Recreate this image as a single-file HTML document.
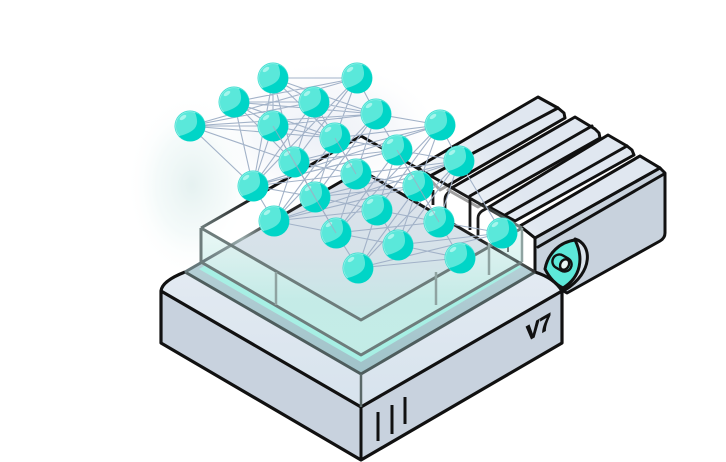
<!DOCTYPE html>
<html><head><meta charset="utf-8"><style>html,body{margin:0;padding:0;background:#fff;width:726px;height:462px;overflow:hidden}svg{display:block}</style></head><body>
<svg width="726" height="462" viewBox="0 0 726 462" xmlns="http://www.w3.org/2000/svg">
<defs>
<radialGradient id="glow"><stop offset="0" stop-color="#d6e9e8" stop-opacity=".62"/><stop offset=".55" stop-color="#e6f4f3" stop-opacity=".42"/><stop offset="1" stop-color="#fff" stop-opacity="0"/></radialGradient>
<radialGradient id="haze"><stop offset="0" stop-color="#e9edf5" stop-opacity=".85"/><stop offset=".6" stop-color="#f0f3f8" stop-opacity=".55"/><stop offset="1" stop-color="#fff" stop-opacity="0"/></radialGradient>
<linearGradient id="top" x1="0" y1="270" x2="0" y2="407" gradientUnits="userSpaceOnUse"><stop offset="0" stop-color="#e3eaf2"/><stop offset="1" stop-color="#d7e3ed"/></linearGradient>
<linearGradient id="glass" x1="0" y1="170" x2="0" y2="356" gradientUnits="userSpaceOnUse"><stop offset="0" stop-color="#dde2ec"/><stop offset=".45" stop-color="#d6e2e9"/><stop offset="1" stop-color="#b9ebe4"/></linearGradient>
<linearGradient id="band" x1="0" y1="262" x2="0" y2="375" gradientUnits="userSpaceOnUse"><stop offset="0" stop-color="#b5cfd6"/><stop offset="1" stop-color="#a0c3c9"/></linearGradient>
<linearGradient id="wall" x1="0" y1="228" x2="0" y2="300" gradientUnits="userSpaceOnUse"><stop offset="0" stop-color="#e6f6f4" stop-opacity=".85"/><stop offset="1" stop-color="#c4ece7" stop-opacity=".85"/></linearGradient>
<linearGradient id="slatFade" x1="440" y1="230" x2="560" y2="160" gradientUnits="userSpaceOnUse"><stop offset="0" stop-color="#f7fafb"/><stop offset=".65" stop-color="#e0e7f0"/></linearGradient>
<linearGradient id="edgeL" x1="200" y1="262" x2="340" y2="182" gradientUnits="userSpaceOnUse"><stop offset="0" stop-color="#66777a"/><stop offset=".3" stop-color="#97a8a8"/><stop offset=".5" stop-color="#333"/><stop offset="1" stop-color="#111"/></linearGradient>
<linearGradient id="edgeT" x1="201" y1="228" x2="255" y2="197" gradientUnits="userSpaceOnUse"><stop offset="0" stop-color="#6d7c7b"/><stop offset="1" stop-color="#111"/></linearGradient>
<linearGradient id="edgeR" x1="361" y1="0" x2="522" y2="0" gradientUnits="userSpaceOnUse"><stop offset="0" stop-color="#111"/><stop offset=".7" stop-color="#1a1a1a"/><stop offset="1" stop-color="#73827f"/></linearGradient>
<linearGradient id="edgeS" x1="361" y1="0" x2="535" y2="0" gradientUnits="userSpaceOnUse"><stop offset="0" stop-color="#111"/><stop offset=".7" stop-color="#222"/><stop offset=".85" stop-color="#5d6c6b"/><stop offset="1" stop-color="#333"/></linearGradient>
<g id="n"><circle r="15.500" fill="#38dccf"/><circle r="14.400" fill="#5ae8da" stroke="#8ef0e6" stroke-width=".8"/><path d="M5-13.500C8-6 8 0 3 4C-1 7-6 9-11 10A14.800 14.800 0 1 0 5-13.500Z" fill="#00d5c7"/><ellipse cx="-7" cy="-8.500" rx="3.800" ry="1.900" transform="rotate(-35 -7 -8.500)" fill="#a5f5ec"/></g>
</defs>
<rect width="726" height="462" fill="#fff"/>
<ellipse cx="192" cy="185" rx="66" ry="92" fill="url(#glow)"/>
<ellipse cx="325" cy="135" rx="120" ry="75" fill="url(#haze)"/>

<!-- right module -->
<g stroke="#111" stroke-width="3" stroke-linejoin="round" stroke-linecap="round" fill="url(#slatFade)">
<path d="M418 167L538 97L558 108L564 113L565 118L440 190Z"/>
<path d="M448 190L575 117L595 129L599 133L600 138L478 207Z"/>
<path d="M489 207L608 135L627 146L632 150L634 155L515 221Z"/>
<path d="M520 226L640 156L660 168L665 173V233Q665 238 660 241L567 293L535 275V238Z" fill="#c8d2dd"/>
<path d="M520 226L640 156L660 168L535 238Z"/>
<path d="M538 247L664 174" fill="none"/>
<path d="M535 238L660 168M430 176L558 108M470 196L592 126M505 215L627 146" fill="none"/>
</g>
<!-- eye -->
<g stroke="#111" stroke-linejoin="round">
<path d="M575 239C592 244 594 272 565 290L550 272Z" fill="#dbe4ec" stroke-width="3"/>
<path d="M545 269C548 253 560 242 575 240C584 258 581 277 563 288C555 284 549 277 545 269Z" fill="#5de8d9" stroke-width="3"/>
<g transform="translate(562 263) rotate(30)" stroke-width="2.400"><rect x="-10" y="-7" width="20" height="14" rx="7" fill="#5de8d9"/><ellipse cx="3" cy="0" rx="4.200" ry="5.500" fill="#e8f4f4"/></g>
</g>

<!-- base -->
<g stroke-linejoin="round">
<path d="M161 291L361 407V460L161 343Z" fill="#c8d2de"/>
<path d="M361 407L562 291V343L361 460Z" fill="#c8d2de"/>
<path d="M161 291Q162 281 185 272L361 170L535 272Q554 278 562 291L361 407Z" fill="url(#top)"/>
<path d="M185 272L361 170L535 272L361 374Z" fill="url(#band)"/>
<path d="M199 269L361 175L521 267L361 362Z" fill="#a7efe4"/>
<path d="M201 262L361 170L522 262L361 355Z" fill="url(#glass)"/>
<path d="M161 291L361 407L562 291V343L361 460L161 343Z" fill="none" stroke="#111" stroke-width="3.200"/>
<path d="M361 407V460" stroke="#111" stroke-width="3" fill="none"/>
<path d="M161 291Q162 281 185 272" fill="none" stroke="#111" stroke-width="3.200"/>
<path d="M535 272Q554 278 562 291" fill="none" stroke="#111" stroke-width="3.200"/>
<path d="M185 272L361 374L535 272" fill="none" stroke="#4e5d5d" stroke-width="3"/>
<path d="M361 374V407" fill="none" stroke="#5a6868" stroke-width="2.500"/>
<path d="M378 441V412M392 434V405M405 424V397" fill="none" stroke="#111" stroke-width="3"/>
</g>
<text transform="matrix(1 -.577 0 1 526 342)" font-family="Liberation Sans, sans-serif" font-weight="700" font-size="22" textLength="25" lengthAdjust="spacingAndGlyphs" fill="#111" stroke="#111" stroke-width=".9">V7</text>

<!-- glass -->
<path d="M201 228L361 136L361 170L201 262Z" fill="#fff" fill-opacity=".72"/>
<path d="M361 136L522 228V262L361 170Z" fill="#fff" fill-opacity=".6"/>
<path d="M201 228L361 320L522 228V262L361 355L201 262Z" fill="url(#wall)"/>
<g fill="none" stroke-linejoin="round">
<path d="M433 190V205M445 210V199Q445 195 449 192M470 199V230M489 207L482 211Q478 214 478 218V236" stroke="#1a1a1a" stroke-width="2.800"/>
<path d="M185 272L361 170" stroke="url(#edgeL)" stroke-width="3"/>
<path d="M361 170L535 272" stroke="url(#edgeS)" stroke-width="3"/>
<path d="M361 136L201 228" stroke="url(#edgeT)" stroke-width="3"/>
<path d="M361 136L522 228" stroke="url(#edgeR)" stroke-width="3"/>
<path d="M201 228V262M201 228L361 320L522 228M201 262L361 355L522 262" stroke="#6d7c7b" stroke-width="3"/>
<path d="M276 272V305M436 272V305M489 243V275M522 228V262" stroke="#8fa3a1" stroke-width="2.500"/>
<path d="M508 238V252" stroke="#73807f" stroke-width="2"/>
</g>

<!-- network edges -->
<path fill="none" stroke="#a2b2c8" stroke-width="1.100" d="M190 126L273 126M190 126L314 102M190 126L357 78M234 102L273 126M234 102L314 102M234 102L357 78M273 78L273 126M273 78L314 102M273 78L357 78M190 126L253 186M190 126L294 162M190 126L335 138M190 126L376 114M234 102L253 186M234 102L294 162M234 102L335 138M234 102L376 114M273 78L253 186M273 78L294 162M273 78L335 138M273 78L376 114M273 126L253 186M273 126L294 162M273 126L335 138M273 126L376 114M314 102L253 186M314 102L294 162M314 102L335 138M314 102L376 114M357 78L253 186M357 78L294 162M357 78L335 138M357 78L376 114M253 186L274 221M253 186L315 197M253 186L356 174M253 186L397 150M253 186L440 125M294 162L274 221M294 162L315 197M294 162L356 174M294 162L397 150M294 162L440 125M335 138L274 221M335 138L315 197M335 138L356 174M335 138L397 150M335 138L440 125M376 114L274 221M376 114L315 197M376 114L356 174M376 114L397 150M376 114L440 125M274 221L336 233M274 221L377 210M274 221L418 186M274 221L459 161M315 197L336 233M315 197L377 210M315 197L418 186M315 197L459 161M356 174L336 233M356 174L377 210M356 174L418 186M356 174L459 161M397 150L336 233M397 150L377 210M397 150L418 186M397 150L459 161M440 125L336 233M440 125L377 210M440 125L418 186M440 125L459 161M336 233L358 268M336 233L398 245M336 233L439 222M377 210L358 268M377 210L398 245M377 210L439 222M418 186L358 268M418 186L398 245M418 186L439 222M459 161L358 268M459 161L398 245M459 161L439 222M358 268L460 258M358 268L502 233M398 245L460 258M398 245L502 233M439 222L460 258M439 222L502 233M459 161L502 233M418 186L460 258"/>

<!-- nodes -->
<use href="#n" x="273" y="78"/><use href="#n" x="357" y="78"/><use href="#n" x="234" y="102"/><use href="#n" x="314" y="102"/><use href="#n" x="376" y="114"/><use href="#n" x="190" y="126"/><use href="#n" x="273" y="126"/><use href="#n" x="440" y="125"/><use href="#n" x="335" y="138"/><use href="#n" x="397" y="150"/><use href="#n" x="294" y="162"/><use href="#n" x="459" y="161"/><use href="#n" x="356" y="174"/><use href="#n" x="253" y="186"/><use href="#n" x="418" y="186"/><use href="#n" x="315" y="197"/><use href="#n" x="377" y="210"/><use href="#n" x="274" y="221"/><use href="#n" x="439" y="222"/><use href="#n" x="336" y="233"/><use href="#n" x="502" y="233"/><use href="#n" x="398" y="245"/><use href="#n" x="460" y="258"/><use href="#n" x="358" y="268"/>
<path fill="none" stroke="#a5a9c0" stroke-width="1" opacity=".75" d="M273 126L315 197M335 138L356 174M294 162L336 233M418 186L439 222M397 150L418 186"/>
</svg>
</body></html>
